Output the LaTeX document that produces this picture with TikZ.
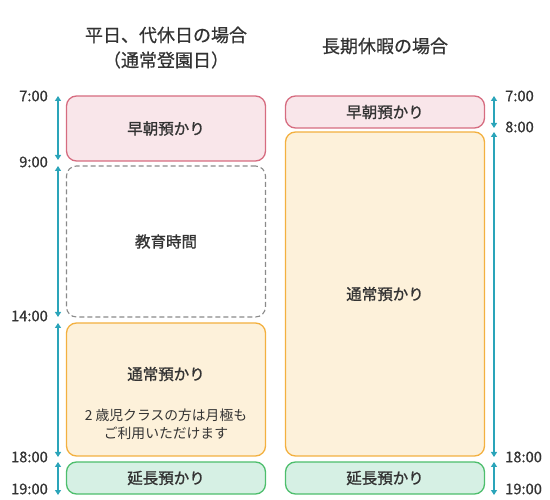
\documentclass[tikz,border=0pt]{standalone}
\usepackage{fontspec}
\setmainfont{Noto Sans CJK JP}
\newfontfamily\medfont[FakeBold=1.2]{Noto Sans CJK JP}
\newfontfamily\semifont[FakeBold=0.6]{Noto Sans CJK JP}
\usetikzlibrary{arrows.meta}
\definecolor{txt}{HTML}{333333}
\definecolor{pinkfill}{HTML}{F9E6EA}
\definecolor{pinkline}{HTML}{D66C80}
\definecolor{orfill}{HTML}{FDF1DA}
\definecolor{orline}{HTML}{F3B03F}
\definecolor{grfill}{HTML}{D6F0E4}
\definecolor{grline}{HTML}{4DBE6C}
\definecolor{dashline}{HTML}{8A8A8A}
\definecolor{teal}{HTML}{2AA4B9}
\begin{document}
\begin{tikzpicture}[x=1pt,y=-1pt,
  box/.style={rounded corners=10pt, line width=1.3pt, minimum width=199pt, inner sep=0pt, text=txt, font=\medfont\fontsize{15.5}{18}\selectfont},
  early/.style={box, draw=pinkline, fill=pinkfill},
  normal/.style={box, draw=orline, fill=orfill},
  ext/.style={box, draw=grline, fill=grfill},
  edu/.style={box, draw=dashline, line width=1.1pt, dash pattern=on 5pt off 3pt},
  lab/.style={text=txt, font=\medfont\fontsize{15.5}{18}\selectfont},
  title/.style={text=txt, font=\semifont\fontsize{18}{22}\selectfont, align=center},
  note/.style={text=txt, font=\fontsize{13.8}{18}\selectfont, align=center},
  tlabel/.style={text=txt, font=\semifont\fontsize{14.7}{16}\selectfont, inner sep=0pt},
  tarrow/.style={draw=teal, line width=1.2pt, {Triangle[width=6pt,length=5pt]}-{Triangle[width=6pt,length=5pt]}, teal}
]
\useasboundingbox (0,0) rectangle (550,500);

% titles
\node[title] (t1) at (166,35) {平日、代休日の場合};
\node[title] (t2) at (166,60) {（通常登園日）};
\node[title] (t3) at (385,46) {長期休暇の場合};

% left column
\node[early, minimum height=65pt] (le) at (166,128.5) {早朝預かり};
\node[edu, minimum height=151pt] (ld) at (166,241.5) {教育時間};
\node[normal, minimum height=133pt] (ln) at (166,389.5) {};
\node[lab] (lnl) at (166,374) {通常預かり};
\node[note] (lnn) at (166,424.5) {2 歳児クラスの方は月極も\\ご利用いただけます};
\node[ext, minimum height=32pt] (lx) at (166,478) {延長預かり};

% right column
\node[early, minimum height=32pt] (re) at (385,112) {早朝預かり};
\node[normal, minimum height=324pt] (rn) at (385,294) {通常預かり};
\node[ext, minimum height=32pt] (rx) at (385,478) {延長預かり};

% left time labels
\node[tlabel, anchor=east] (l7) at (48,96) {7:00};
\node[tlabel, anchor=east] (l9) at (48,162) {9:00};
\node[tlabel, anchor=east] (l14) at (48,316) {14:00};
\node[tlabel, anchor=east] (l18) at (48,457) {18:00};
\node[tlabel, anchor=east] (l19) at (48,489) {19:00};

% right time labels
\node[tlabel, anchor=west] (r7) at (505,96) {7:00};
\node[tlabel, anchor=west] (r8) at (505,127) {8:00};
\node[tlabel, anchor=west] (r18) at (505,457) {18:00};
\node[tlabel, anchor=west] (r19) at (505,489) {19:00};

% arrow end points
\coordinate (la1) at (58,96);
\coordinate (la2) at (58,160);
\coordinate (la3) at (58,166);
\coordinate (la4) at (58,317);
\coordinate (la5) at (58,323);
\coordinate (la6) at (58,457);
\coordinate (la7) at (58,462);
\coordinate (la8) at (58,495);
\coordinate (ra1) at (494,96);
\coordinate (ra2) at (494,128);
\coordinate (ra3) at (494,132);
\coordinate (ra4) at (494,457);
\coordinate (ra5) at (494,462);
\coordinate (ra6) at (494,495);

\draw[tarrow] (la1) -- (la2);
\draw[tarrow] (la3) -- (la4);
\draw[tarrow] (la5) -- (la6);
\draw[tarrow] (la7) -- (la8);
\draw[tarrow] (ra1) -- (ra2);
\draw[tarrow] (ra3) -- (ra4);
\draw[tarrow] (ra5) -- (ra6);
\end{tikzpicture}
\end{document}
